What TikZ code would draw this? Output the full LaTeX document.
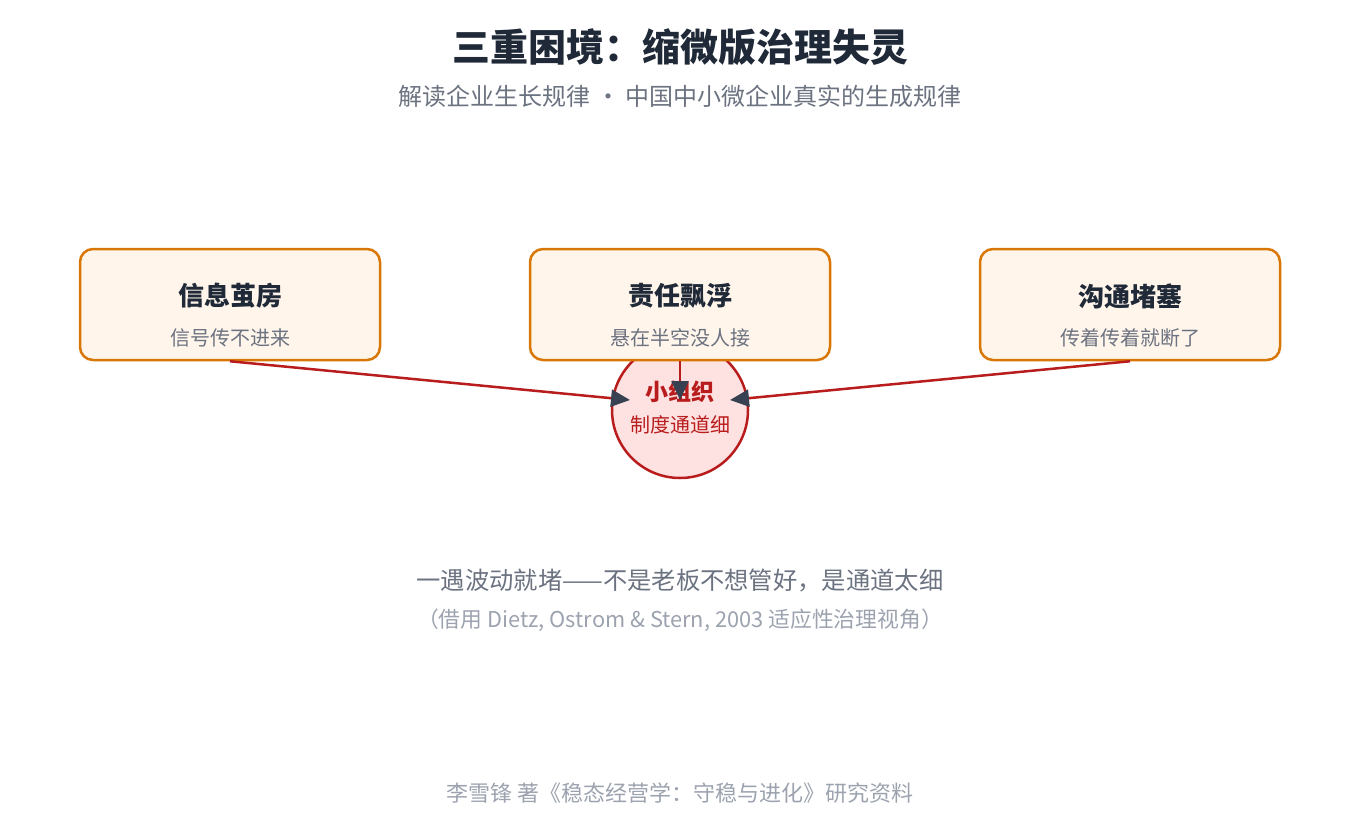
\documentclass[tikz,border=0pt]{standalone}
\usepackage{fontspec}
\setmainfont{Noto Sans CJK SC}
\usetikzlibrary{arrows.meta}
\definecolor{titlec}{HTML}{1F2937}
\definecolor{subc}{HTML}{6B7280}
\definecolor{boxfill}{HTML}{FFF5EB}
\definecolor{boxdraw}{HTML}{D97706}
\definecolor{circfill}{HTML}{FEE2E2}
\definecolor{redc}{HTML}{B91C1C}
\definecolor{tipc}{HTML}{374151}
\definecolor{lightc}{HTML}{9CA3AF}
\definecolor{midc}{HTML}{6B7280}
\tikzset{
  fs/.style={font=\fontsize{#1}{#1}\selectfont},
  probbox/.style={draw=boxdraw, line width=2.5pt, fill=boxfill, rounded corners=13pt, minimum width=300pt, minimum height=111pt, inner sep=0pt},
  core/.style={circle, draw=redc, line width=2.5pt, fill=circfill, minimum size=136pt, inner sep=0pt},
  flow/.style={draw=redc, line width=2.5pt, -{Triangle[length=19pt,width=17pt,color=tipc]}},
}
\begin{document}
\begin{tikzpicture}[x=1pt,y=-1pt]
\useasboundingbox (0,0) rectangle (1360,830);
\node[text=titlec, font=\bfseries\fontsize{38}{38}\selectfont] (title) at (680,47) {三重困境：缩微版治理失灵};
\node[fs=24, text=subc] (sub) at (680,96) {解读企业生长规律 · 中国中小微企业真实的生成规律};

\node[core] (c) at (680,410) {};
\node[text=redc, font=\bfseries\fontsize{23}{23}\selectfont] (ct) at (680,392) {小组织};
\node[fs=20, text=redc] (cs) at (680,425) {制度通道细};

\node[probbox] (b1) at (230,304.5) {};
\node[probbox] (b2) at (680,304.5) {};
\node[probbox] (b3) at (1130,304.5) {};
\node[text=titlec, font=\bfseries\fontsize{26}{26}\selectfont] (t1) at (230,296) {信息茧房};
\node[text=titlec, font=\bfseries\fontsize{26}{26}\selectfont] (t2) at (680,296) {责任飘浮};
\node[text=titlec, font=\bfseries\fontsize{26}{26}\selectfont] (t3) at (1130,296) {沟通堵塞};
\node[fs=20, text=subc] (s1) at (230,338) {信号传不进来};
\node[fs=20, text=subc] (s2) at (680,338) {悬在半空没人接};
\node[fs=20, text=subc] (s3) at (1130,338) {传着传着就断了};

\coordinate (e1) at (630,400);
\coordinate (e2) at (680,400);
\coordinate (e3) at (730,400);
\draw[flow] (b1.south) -- (e1);
\draw[flow] (b2.south) -- (e2);
\draw[flow] (b3.south) -- (e3);

\node[fs=24.3, text=midc] (q) at (680,581) {一遇波动就堵——不是老板不想管好，是通道太细};
\node[fs=21.8, text=lightc] (cite) at (680,620) {（借用 Dietz, Ostrom \& Stern, 2003 适应性治理视角）};
\node[fs=22, text=lightc] (foot) at (680,793) {李雪锋 著《稳态经营学：守稳与进化》研究资料};
\end{tikzpicture}
\end{document}
